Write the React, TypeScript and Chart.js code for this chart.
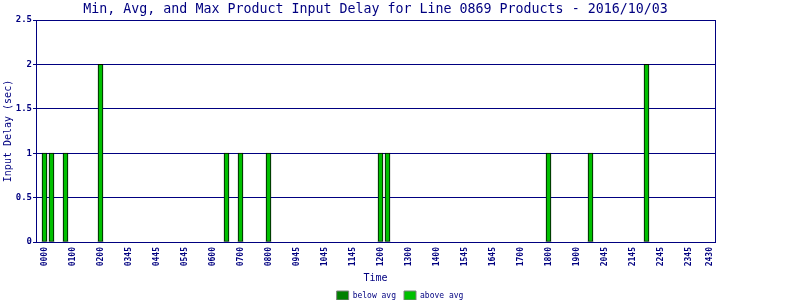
import React, { useEffect, useRef } from "react";
import { Chart, registerables } from "chart.js";

Chart.register(...registerables);

const chartTitle =
  "Min, Avg, and Max Product Input Delay for Line 0869 Products - 2016/10/03";
const xAxisTitle = "Time";
const yAxisTitle = "Input Delay (sec)";

// x tick labels and the time slot (bar position) they sit on
const tickLabels = [
  "0000", "0100", "0200", "0345", "0445", "0545", "0600", "0700", "0800",
  "0945", "1045", "1145", "1200", "1300", "1400", "1545", "1645", "1700",
  "1800", "1900", "2045", "2145", "2245", "2345", "2430",
];
const tickSlots = [
  0, 4, 8, 12, 16, 20, 24, 28, 32, 36, 40, 44, 48, 52, 56, 60, 64, 68, 72,
  76, 80, 84, 88, 92, 95,
];

// bars: time slot, delay split into below-average and above-average parts
const barSlots = [0, 1, 3, 8, 26, 28, 32, 48, 49, 72, 78, 86];
const belowAvgDelay = [0, 0, 0, 0, 0, 0, 0, 0, 0, 0, 0, 0];
const aboveAvgDelay = [1, 1, 1, 2, 1, 1, 1, 1, 1, 1, 1, 2];

const seriesNames = ["below avg", "above avg"];

const NAVY = "#000080";
const MONO = "'DejaVu Sans Mono', monospace";

export default function App() {
  const ref = useRef<HTMLCanvasElement>(null);

  useEffect(() => {
    document.body.style.margin = "0";
    const xMin = -8.5 / 7;
    const xMax = xMin + 97;
    const chart = new Chart(ref.current!, {
      type: "bar",
      data: {
        datasets: [
          {
            label: seriesNames[0],
            data: barSlots.map((s, i) => ({ x: s, y: belowAvgDelay[i] })),
            backgroundColor: "#008000",
            borderColor: "#000000",
            borderWidth: 0,
            borderSkipped: false,
            barThickness: 5,
          },
          {
            label: seriesNames[1],
            data: barSlots.map((s, i) => ({ x: s, y: aboveAvgDelay[i] })),
            backgroundColor: "#00C000",
            borderColor: "#000000",
            borderWidth: 1,
            borderSkipped: false,
            barThickness: 5,
          },
        ],
      },
      options: {
        animation: false,
        responsive: false,
        layout: { padding: { top: 0, left: 0, right: 0, bottom: -10 } },
        plugins: {
          title: {
            display: true,
            text: chartTitle,
            fullSize: false,
            color: NAVY,
            font: { family: MONO, size: 13.3, weight: "normal", lineHeight: "16px" },
            padding: { top: 2, bottom: 2 },
          },
          legend: {
            position: "bottom",
            labels: {
              boxWidth: 12,
              boxHeight: 9,
              padding: 8,
              color: NAVY,
              font: { family: MONO, size: 8 },
              generateLabels: (c: any) =>
                Chart.defaults.plugins.legend.labels
                  .generateLabels(c)
                  .map((l: any) => ({ ...l, strokeStyle: "#808080", lineWidth: 1 })),
            },
          },
          tooltip: { enabled: false },
        },
        scales: {
          x: {
            type: "linear",
            stacked: true,
            min: xMin,
            max: xMax,
            offset: false,
            grid: { display: false, drawTicks: false, offset: false },
            border: { display: true, color: NAVY, width: 1 },
            afterBuildTicks: (s: any) => {
              s.ticks = tickSlots.map((v) => ({ value: v }));
            },
            afterFit: (s: any) => {
              s.height = 41;
            },
            ticks: {
              autoSkip: false,
              minRotation: 90,
              maxRotation: 90,
              padding: 5,
              color: NAVY,
              font: { family: MONO, size: 8, weight: "bold" },
              callback: (_v: any, i: number) => tickLabels[i],
            },
            title: {
              display: true,
              text: xAxisTitle,
              color: NAVY,
              font: { family: MONO, size: 10 },
              padding: { top: 0, bottom: -1 },
            },
          },
          y: {
            type: "linear",
            stacked: true,
            min: 0,
            max: 2.5,
            afterFit: (s: any) => {
              s.width = 36;
            },
            grid: { color: NAVY, lineWidth: 1, drawTicks: true, tickLength: 3, tickColor: NAVY },
            border: { display: true, color: NAVY, width: 1 },
            ticks: {
              stepSize: 0.5,
              padding: 1,
              color: NAVY,
              font: { family: MONO, size: 9, weight: "bold" },
              callback: (v: any) => String(Number(v)),
            },
            title: {
              display: true,
              text: yAxisTitle,
              color: NAVY,
              font: { family: MONO, size: 10 },
              padding: { top: 2, bottom: 0 },
            },
          },
          y2: {
            type: "linear",
            position: "right",
            display: true,
            grid: { display: false, drawOnChartArea: false, drawTicks: false },
            ticks: { display: false },
            border: { display: true, color: NAVY, width: 1 },
            afterFit: (s: any) => {
              s.width = 85;
            },
          },
        },
      } as any,
    });
    return () => chart.destroy();
  }, []);

  return (
    <div style={{ width: 800, height: 300 }}>
      <canvas ref={ref} width={800} height={300} style={{ display: "block" }} />
    </div>
  );
}
